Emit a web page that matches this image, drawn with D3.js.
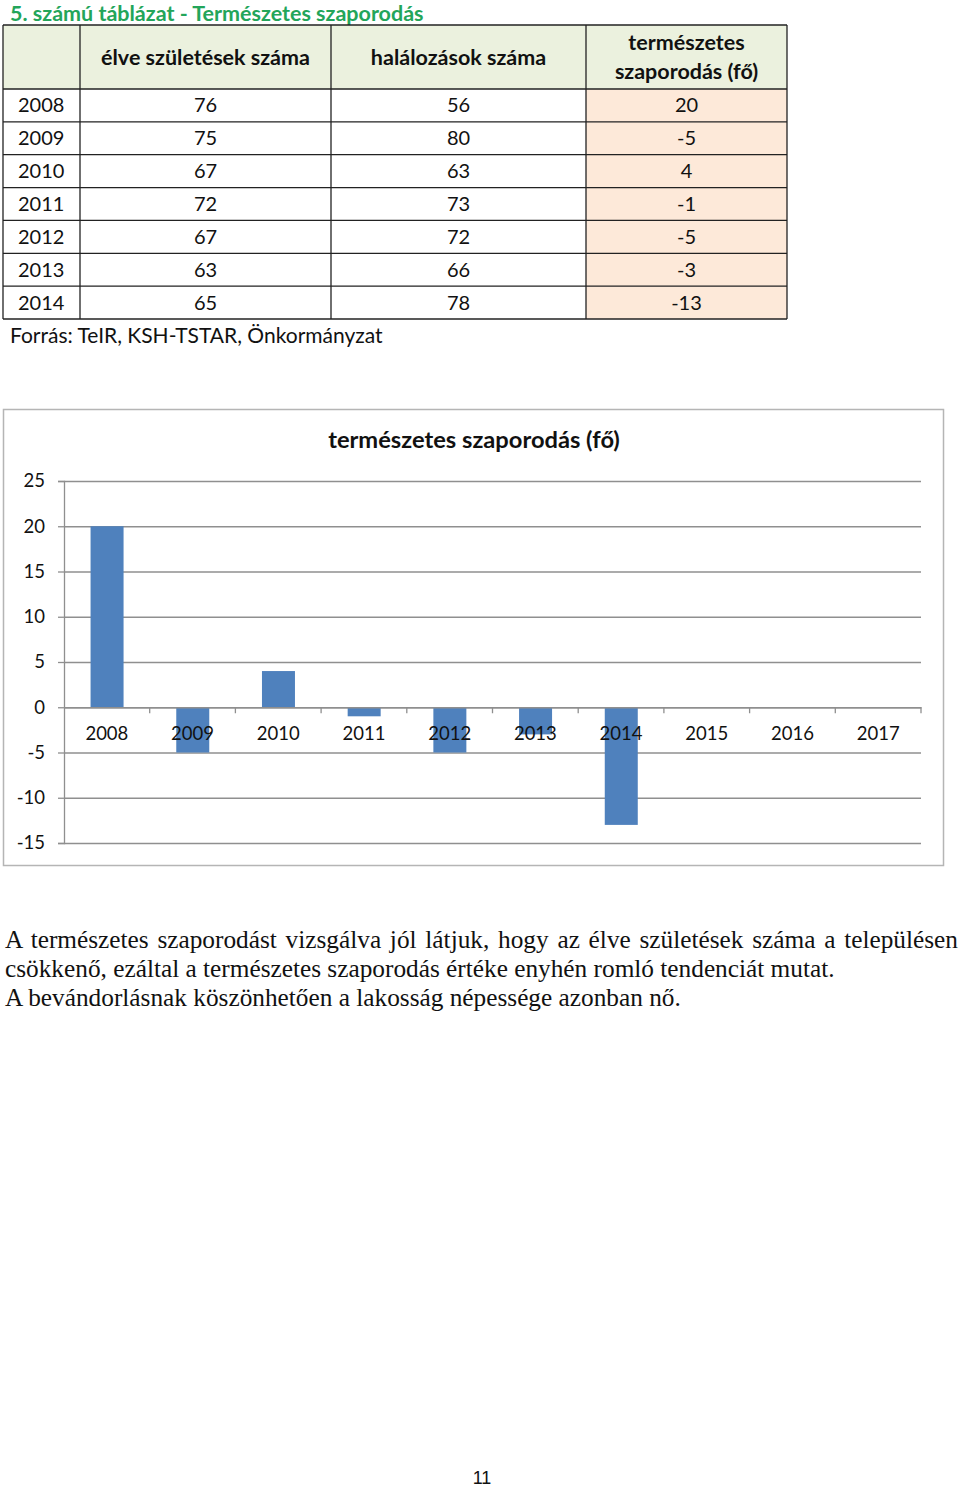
<!DOCTYPE html>
<html>
<head>
<meta charset="utf-8">
<script src="https://cdnjs.cloudflare.com/ajax/libs/d3/7.8.5/d3.min.js"></script>
<style>
  body { margin: 0; background: #fff; }
  svg { display: block; }
  .sans { font-family: Lato, "Open Sans", sans-serif; }
</style>
</head>
<body>
<script>
// table data
var years = ["2008", "2009", "2010", "2011", "2012", "2013", "2014"];
var births = [76, 75, 67, 72, 67, 63, 65];
var deaths = [56, 80, 63, 73, 72, 66, 78];
var natural = [20, -5, 4, -1, -5, -3, -13];

// chart data
var chartYears = ["2008", "2009", "2010", "2011", "2012", "2013", "2014", "2015", "2016", "2017"];
var chartValues = [20, -5, 4, -1, -5, -3, -13, null, null, null];
var yTicks = [25, 20, 15, 10, 5, 0, -5, -10, -15];

var paragraph = [
  "A természetes szaporodást vizsgálva jól látjuk, hogy az élve születések száma a településen",
  "csökkenő, ezáltal a természetes szaporodás értéke enyhén romló tendenciát mutat.",
  "A bevándorlásnak köszönhetően a lakosság népessége azonban nő."
];

var svg = d3.select("body").append("svg")
    .attr("width", 960)
    .attr("height", 1487);

// ---- table ----
svg.append("text")
    .attr("class", "sans")
    .attr("x", 10).attr("y", 21)
    .attr("font-size", 21.5).attr("font-weight", "bold")
    .attr("fill", "#23a55a")
    .text("5. számú táblázat - Természetes szaporodás");

var colX = [3, 80, 331, 586, 787];
var headTop = 25, headBottom = 89, tableBottom = 319;

var rowY = d3.scaleBand().domain(years).range([headBottom, tableBottom]);

// backgrounds
svg.append("rect")
    .attr("x", colX[0]).attr("y", headTop)
    .attr("width", colX[4] - colX[0]).attr("height", headBottom - headTop)
    .attr("fill", "#ebf1de");

svg.selectAll("rect.peach")
    .data(years)
  .enter().append("rect")
    .attr("class", "peach")
    .attr("x", colX[3]).attr("y", function(d) { return rowY(d); })
    .attr("width", colX[4] - colX[3]).attr("height", rowY.bandwidth())
    .attr("fill", "#fde9d9");

// grid lines
var hLines = [headTop, headBottom].concat(years.map(function(d) { return rowY(d) + rowY.bandwidth(); }));
svg.selectAll("line.h")
    .data(hLines)
  .enter().append("line")
    .attr("x1", colX[0]).attr("x2", colX[4])
    .attr("y1", function(d) { return d; }).attr("y2", function(d) { return d; })
    .attr("stroke", "#222").attr("stroke-width", 1.3);

svg.selectAll("line.v")
    .data(colX)
  .enter().append("line")
    .attr("x1", function(d) { return d; }).attr("x2", function(d) { return d; })
    .attr("y1", headTop).attr("y2", tableBottom)
    .attr("stroke", "#222").attr("stroke-width", 1.3);

// header text
var colMid = [null, (colX[1] + colX[2]) / 2, (colX[2] + colX[3]) / 2, (colX[3] + colX[4]) / 2];
var header = svg.append("g").attr("class", "sans")
    .attr("font-size", 21.5).attr("font-weight", "bold").attr("fill", "#111")
    .attr("text-anchor", "middle");
header.append("text").attr("x", colMid[1]).attr("y", 65).text("élve születések száma");
header.append("text").attr("x", colMid[2]).attr("y", 65).text("halálozások száma");
header.append("text").attr("x", colMid[3]).attr("y", 50).text("természetes");
header.append("text").attr("x", colMid[3]).attr("y", 79).text("szaporodás (fő)");

// body text
var body = svg.append("g").attr("class", "sans")
    .attr("font-size", 20).attr("fill", "#111");
years.forEach(function(yr, i) {
  var cy = rowY(yr) + rowY.bandwidth() / 2 + 7;
  body.append("text").attr("x", 18).attr("y", cy).text(yr);
  body.append("text").attr("x", colMid[1]).attr("y", cy).attr("text-anchor", "middle").text(births[i]);
  body.append("text").attr("x", colMid[2]).attr("y", cy).attr("text-anchor", "middle").text(deaths[i]);
  body.append("text").attr("x", colMid[3]).attr("y", cy).attr("text-anchor", "middle").text(natural[i]);
});

svg.append("text")
    .attr("class", "sans")
    .attr("x", 10).attr("y", 343)
    .attr("font-size", 21).attr("fill", "#111")
    .text("Forrás: TeIR, KSH-TSTAR, Önkormányzat");

// ---- chart ----
svg.append("rect")
    .attr("x", 3.5).attr("y", 409.5)
    .attr("width", 940).attr("height", 456)
    .attr("fill", "#fff").attr("stroke", "#b5b5b5").attr("stroke-width", 1.5);

svg.append("text")
    .attr("class", "sans")
    .attr("x", 474).attr("y", 448)
    .attr("text-anchor", "middle")
    .attr("font-size", 23.7).attr("font-weight", "bold").attr("fill", "#111")
    .text("természetes szaporodás (fő)");

var plotLeft = 64, plotRight = 921;
var x = d3.scaleBand().domain(chartYears).range([plotLeft, plotRight]).paddingInner(0);
var y = d3.scaleLinear().domain([-15, 25]).range([843, 481]);

// gridlines
svg.append("g")
    .attr("transform", "translate(" + plotLeft + ",0)")
    .call(d3.axisLeft(y).tickValues(yTicks).tickSize(-(plotRight - plotLeft)).tickFormat(""))
    .call(function(g) { g.select(".domain").remove(); })
    .selectAll("line").attr("stroke", "#8f8f8f").attr("stroke-width", 1.3);

// y axis
var yAxis = svg.append("g")
    .attr("class", "sans")
    .attr("transform", "translate(" + plotLeft + ",0)")
    .call(d3.axisLeft(y).tickValues(yTicks).tickSize(6).tickPadding(13)
      .tickFormat(function(d) { return String(d); }));
yAxis.select(".domain").attr("stroke", "#8f8f8f").attr("stroke-width", 1.3);
yAxis.selectAll("line").attr("stroke", "#8f8f8f").attr("stroke-width", 1.3);
yAxis.selectAll("text").attr("font-size", 18.5).attr("fill", "#111").attr("font-family", "Lato, sans-serif");

// bars
svg.selectAll("rect.bar")
    .data(chartValues.map(function(v, i) { return {year: chartYears[i], value: v}; })
      .filter(function(d) { return d.value !== null; }))
  .enter().append("rect")
    .attr("class", "bar")
    .attr("x", function(d) { return x(d.year) + x.bandwidth() * 0.31; })
    .attr("width", x.bandwidth() * 0.385)
    .attr("y", function(d) { return y(Math.max(0, d.value)); })
    .attr("height", function(d) { return Math.abs(y(d.value) - y(0)); })
    .attr("fill", "#4f81bd");

// x axis at zero
var xAxis = svg.append("g")
    .attr("transform", "translate(0," + y(0) + ")")
    .call(d3.axisBottom(x).tickSize(0).tickPadding(20));
xAxis.select(".domain").attr("stroke", "#8f8f8f").attr("stroke-width", 1.3);
xAxis.selectAll("text").attr("font-size", 18.5).attr("fill", "#111").attr("font-family", "Lato, sans-serif");

// category boundary tick marks
svg.selectAll("line.xtick")
    .data(chartYears)
  .enter().append("line")
    .attr("class", "xtick")
    .attr("x1", function(d) { return x(d) + x.bandwidth(); })
    .attr("x2", function(d) { return x(d) + x.bandwidth(); })
    .attr("y1", y(0)).attr("y2", y(0) + 6)
    .attr("stroke", "#8f8f8f").attr("stroke-width", 1.3);

// ---- paragraph ----
var para = svg.append("g")
    .attr("font-family", "'Liberation Serif', 'Times New Roman', serif")
    .attr("font-size", 25.3).attr("fill", "#111");
para.selectAll("text")
    .data(paragraph)
  .enter().append("text")
    .attr("x", 5)
    .attr("y", function(d, i) { return 948 + i * 29; })
    .text(function(d) { return d; })
    .each(function(d, i) {
      if (i === 0) {
        // justify the first line by widening the word gaps
        var len = this.getComputedTextLength();
        var gaps = d.split(" ").length - 1;
        var extra = (953 - len) / gaps;
        d3.select(this).attr("word-spacing", extra);
      }
    });

// page number
svg.append("text")
    .attr("x", 482).attr("y", 1484)
    .attr("text-anchor", "middle")
    .attr("font-family", "'Liberation Sans', Arial, sans-serif")
    .attr("font-size", 18).attr("fill", "#111")
    .text("11");
</script>
</body>
</html>
